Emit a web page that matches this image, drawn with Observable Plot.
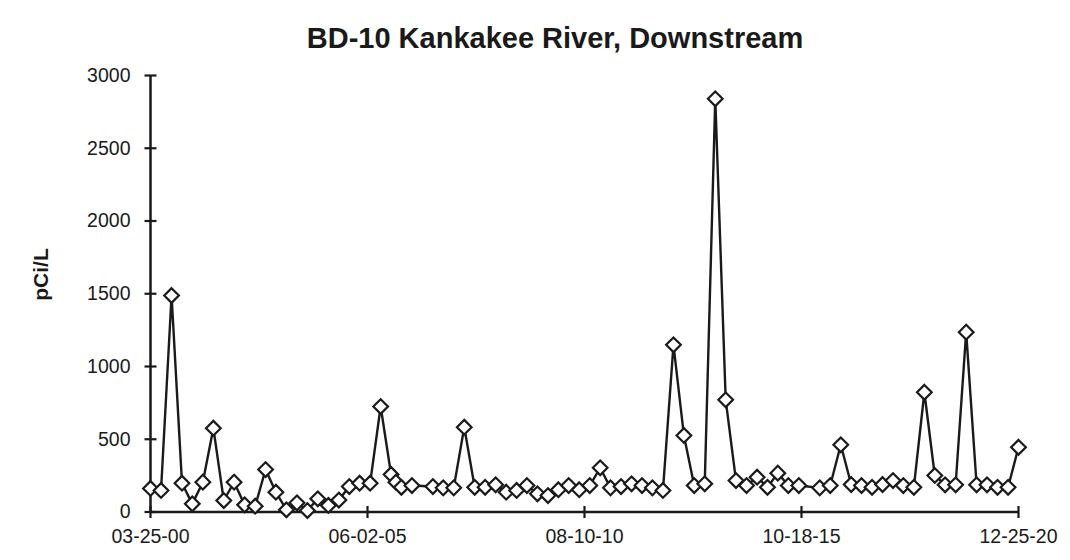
<!DOCTYPE html>
<html>
<head>
<meta charset="utf-8">
<script src="https://cdn.jsdelivr.net/npm/d3@7"></script>
<script src="https://cdn.jsdelivr.net/npm/@observablehq/plot@0.6"></script>
<style>
  html, body { margin: 0; padding: 0; background: #fff; }
  body { width: 1070px; height: 560px; overflow: hidden; font-family: "Liberation Sans", Arial, sans-serif; }
  #title { position: relative; height: 60px; }
  #title span { position: absolute; top: 23.5px; left: 0; width: 1110px; text-align: center;
    font-size: 29px; line-height: 29px; font-weight: bold; color: #1a1a1a; }
  #chart svg { display: block; overflow: visible; }
</style>
</head>
<body>
<div id="title"><span>BD-10 Kankakee River, Downstream</span></div>
<div id="chart"></div>
<script>
const titleText = "BD-10 Kankakee River, Downstream";
const yLabel = "pCi/L";

const sampleDates = [
  "2000-03-25","2000-06-25","2000-09-25","2000-12-25",
  "2001-03-25","2001-06-25","2001-09-25","2001-12-25",
  "2002-03-25","2002-06-25","2002-09-25","2002-12-25",
  "2003-03-25","2003-06-25","2003-09-25","2003-12-25",
  "2004-03-25","2004-06-25","2004-09-25","2004-12-25",
  "2005-03-25","2005-06-25","2005-09-25","2005-12-25","2006-02-05",
  "2006-03-25","2006-06-25","2006-12-25",
  "2007-03-25","2007-06-25","2007-09-25","2007-12-25",
  "2008-03-25","2008-06-25","2008-09-25","2008-12-25",
  "2009-03-25","2009-06-25","2009-09-25","2009-12-25",
  "2010-03-25","2010-06-25","2010-09-25","2010-12-25",
  "2011-03-25","2011-06-25","2011-09-25","2011-12-25",
  "2012-03-25","2012-06-25","2012-09-25","2012-12-25",
  "2013-03-25","2013-06-25","2013-09-25","2013-12-25",
  "2014-03-25","2014-06-25","2014-09-25","2014-12-25",
  "2015-03-25","2015-06-25","2015-09-25",
  "2016-03-25","2016-06-25","2016-09-25","2016-12-25",
  "2017-03-25","2017-06-25","2017-09-25","2017-12-25",
  "2018-03-25","2018-06-25","2018-09-25","2018-12-25",
  "2019-03-25","2019-06-25","2019-09-25","2019-12-25",
  "2020-03-25","2020-06-25","2020-09-25","2020-12-25"
];

const sampleValues = [
  162, 148, 1488, 198,
  56, 205, 576, 79,
  205, 49, 40, 292,
  136, 15, 63, 10,
  91, 45, 82, 175,
  198, 198, 725, 258, 205,
  170, 182, 175,
  166, 166, 583, 170,
  170, 187, 136, 148,
  182, 125, 113, 153,
  182, 153, 182, 304,
  166, 175, 194, 182,
  166, 148, 1149, 526,
  182, 194, 2840, 771,
  216, 182, 239, 170,
  267, 182, 182,
  166, 182, 462, 189,
  182, 170, 189, 216,
  182, 170, 823, 251,
  187, 187, 1236, 187,
  187, 170, 170, 445
];

const xTickDates = ["2000-03-25", "2005-06-02", "2010-08-10", "2015-10-18", "2020-12-25"];
const yTickValues = [0, 500, 1000, 1500, 2000, 2500, 3000];

const parse = d3.utcParse("%Y-%m-%d");
const data = sampleDates.map((d, i) => ({date: parse(d), value: sampleValues[i]}));
const xTicks = xTickDates.map(parse);
const fmt = d3.utcFormat("%m-%d-%y");
const ink = "#1a1a1a";

// crossing tick symbols (half length 6px)
const hTick = {draw(ctx) { ctx.moveTo(-6, 0); ctx.lineTo(6, 0); }};
const vTick = {draw(ctx) { ctx.moveTo(0, -6); ctx.lineTo(0, 6); }};

const chart = Plot.plot({
  width: 1070,
  height: 500,
  marginTop: 15,
  marginBottom: 48.5,
  marginLeft: 150,
  marginRight: 52,
  style: {fontFamily: "'Liberation Sans', Arial, sans-serif", fontSize: "19.5px", color: ink, background: "#fff"},
  x: {type: "utc", domain: [xTicks[0], xTicks[xTicks.length - 1]], label: null},
  y: {domain: [0, 3000], label: null},
  marks: [
    Plot.axisX({ticks: xTicks, tickSize: 0, tickPadding: 17, tickFormat: fmt, fill: ink, label: null}),
    Plot.axisY({ticks: yTickValues, tickSize: 0, tickPadding: 20, tickFormat: d => String(d), fill: ink, label: null}),
    Plot.ruleY([0], {stroke: ink, strokeWidth: 2.5}),
    Plot.ruleX([xTicks[0]], {stroke: ink, strokeWidth: 2.5}),
    Plot.dot(yTickValues, {x: () => xTicks[0], y: d => d, symbol: hTick, stroke: ink, strokeWidth: 2.2, fill: "none"}),
    Plot.dot(xTicks, {x: d => d, y: () => 0, symbol: vTick, stroke: ink, strokeWidth: 2.2, fill: "none"}),
    Plot.line(data, {x: "date", y: "value", stroke: ink, strokeWidth: 2.4}),
    Plot.dot(data, {x: "date", y: "value", symbol: "diamond2", r: 6.6, fill: "#fff", stroke: ink, strokeWidth: 2.2}),
    Plot.text([yLabel], {text: d => d, frameAnchor: "left", rotate: -90, dx: -109, dy: 7,
      fontSize: 21, fontWeight: "bold", fill: ink})
  ]
});
document.getElementById("chart").appendChild(chart);
</script>
</body>
</html>
